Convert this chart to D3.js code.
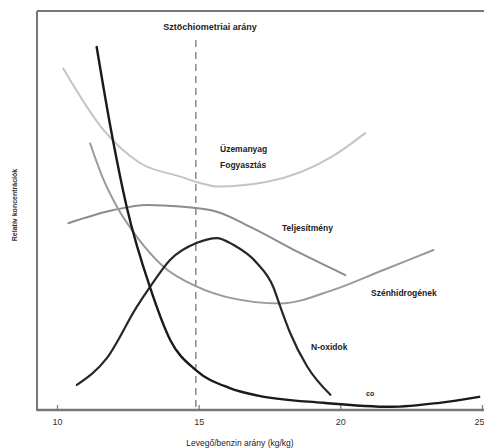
<!DOCTYPE html>
<html><head><meta charset="utf-8">
<script src="https://cdn.jsdelivr.net/npm/d3@7"></script>
<style>body{margin:0;background:#fff}svg{display:block}</style>
</head><body>
<svg id="c" width="484" height="448"></svg>
<script>
const xTicks = [10, 15, 20, 25];
const stoich = 14.9;
const coX = [11.4, 11.94, 12.46, 13.29, 14.0, 14.9, 16.1, 17.1, 19.4, 21.8, 23.5, 24.9];
const coY = [91, 68.9, 50.9, 30.6, 17.5, 10, 5.5, 3.6, 1.8, 0.8, 1.8, 3.3];
const noxX = [10.7, 11.76, 12.82, 13.29, 13.99, 14.94, 15.64, 16.22, 17.06, 17.63, 17.88, 18.23, 18.83, 19.65];
const noxY = [6.3, 13, 25.9, 30.9, 37.6, 41.9, 43.1, 41.4, 36.8, 30.9, 25.9, 19.3, 10.9, 3.8];
const fuelX = [10.22, 11.64, 12.93, 14.35, 15.05, 15.65, 17.42, 19.75, 20.88];
const fuelY = [85.6, 70.2, 61.9, 58.5, 56.9, 56.0, 57.2, 63.7, 69.4];
const hcX = [11.17, 11.62, 12.11, 12.82, 13.76, 14.94, 16.11, 17.88, 19.75, 21.52, 23.29];
const hcY = [66.8, 58.1, 51.0, 43.4, 35.9, 30.9, 28.1, 26.7, 30.1, 35.1, 40.1];
const powX = [10.4, 11.99, 13.17, 14.35, 15.64, 16.82, 18.59, 20.18];
const powY = [46.8, 50.1, 51.4, 51.0, 49.7, 45.9, 39.3, 33.8];

const svg = d3.select("#c");
const x = d3.scaleLinear().domain([10, 25]).range([57, 482]);
const y = d3.scaleLinear().domain([0, 100]).range([410, 11]);
const font = "Liberation Sans, Arial, sans-serif";

// frame
svg.append("line").attr("x1", 37).attr("x2", 484).attr("y1", 11).attr("y2", 11).attr("stroke", "#777").attr("stroke-width", 2);
svg.append("line").attr("x1", 37).attr("x2", 37).attr("y1", 11).attr("y2", 411).attr("stroke", "#777").attr("stroke-width", 2);

const axis = d3.axisBottom(x).tickValues(xTicks).tickSize(-5).tickPadding(9).tickFormat(d3.format("d"));
const ga = svg.append("g").attr("transform", "translate(0,410)").call(axis);
ga.select(".domain").attr("d", "M37,0H484").attr("stroke", "#777").attr("stroke-width", 2.5);
ga.selectAll(".tick line").attr("stroke", "#777").attr("stroke-width", 1.2);
ga.selectAll(".tick text").attr("font-family", font).attr("font-size", 9).attr("fill", "#333")
  .attr("text-anchor", d => d === 25 ? "end" : "middle").attr("dx", d => d === 25 ? 2 : 0);

// stoichiometric dashed line
svg.append("line").attr("x1", x(stoich)).attr("x2", x(stoich)).attr("y1", 40).attr("y2", 410)
  .attr("stroke", "#777").attr("stroke-width", 1.3).attr("stroke-dasharray", "7,5");

function draw(xs, ys, color, w) {
  const pts = xs.map((v, i) => [v, ys[i]]);
  svg.append("path").datum(pts)
    .attr("d", d3.line().x(d => x(d[0])).y(d => y(d[1])).curve(d3.curveMonotoneX))
    .attr("fill", "none").attr("stroke", color).attr("stroke-width", w).attr("stroke-linecap", "round");
}
draw(fuelX, fuelY, "#c4c4c4", 2);
draw(powX, powY, "#8c8c8c", 2);
draw(hcX, hcY, "#9a9a9a", 2);
draw(noxX, noxY, "#262626", 2.2);
draw(coX, coY, "#1a1a1a", 2.4);

function label(t, px, py, size, weight, anchor) {
  svg.append("text").attr("x", px).attr("y", py).text(t)
    .attr("font-family", font).attr("font-size", size).attr("font-weight", weight || "bold")
    .attr("fill", "#222").attr("text-anchor", anchor || "start");
}
label("Sztöchiometriai arány", 210, 30, 9, "bold", "middle");
label("Üzemanyag", 220, 152, 8.5);
label("Fogyasztás", 220, 168, 8.5);
label("Teljesítmény", 282, 231, 8.5);
label("Szénhidrogének", 371, 296, 8.5);
label("N-oxidok", 311, 350, 8.5);
label("co", 366, 396, 7);
label("Levegő/benzin arány   (kg/kg)", 240, 446, 8.5, "normal", "middle");
svg.append("text").attr("transform", "translate(17,205) rotate(-90)").attr("text-anchor", "middle")
  .attr("font-family", font).attr("font-size", 7).attr("font-weight", "bold").attr("fill", "#333")
  .text("Relatív koncentrációk");
</script>
</body></html>
